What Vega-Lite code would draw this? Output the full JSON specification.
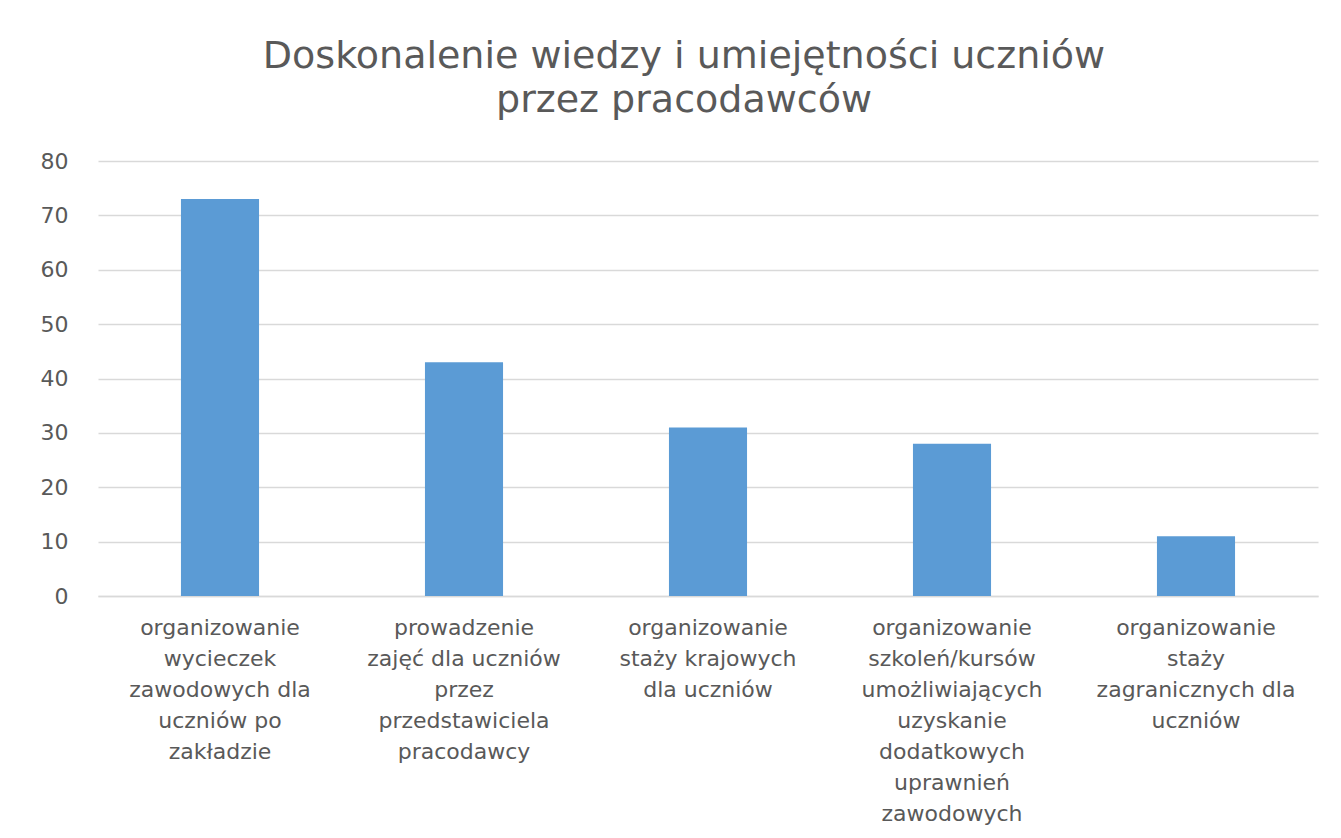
{
  "$schema": "https://vega.github.io/schema/vega-lite/v6.json",
  "autosize": "none",
  "width": 1220,
  "height": 435,
  "padding": {"left": 98, "top": 161, "right": 23, "bottom": 242},
  "background": "white",
  "config": {
    "view": {"stroke": null},
    "font": "DejaVu Sans"
  },
  "title": {
    "text": ["Doskonalenie wiedzy i umiejętności uczniów", "przez pracodawców"],
    "fontSize": 38,
    "font": "DejaVu Sans",
    "fontWeight": "normal",
    "color": "#595959",
    "lineHeight": 44,
    "offset": 30,
    "dx": -24,
    "anchor": "middle"
  },
  "data": {
    "values": [
      {"cat": "organizowanie|wycieczek|zawodowych dla|uczniów po|zakładzie", "order": 1, "value": 73},
      {"cat": "prowadzenie|zajęć dla uczniów|przez|przedstawiciela|pracodawcy", "order": 2, "value": 43},
      {"cat": "organizowanie|staży krajowych|dla uczniów", "order": 3, "value": 31},
      {"cat": "organizowanie|szkoleń/kursów|umożliwiających|uzyskanie|dodatkowych|uprawnień|zawodowych", "order": 4, "value": 28},
      {"cat": "organizowanie|staży|zagranicznych dla|uczniów", "order": 5, "value": 11}
    ]
  },
  "mark": {"type": "bar", "color": "#5b9bd5"},
  "encoding": {
    "x": {
      "field": "cat",
      "type": "nominal",
      "sort": {"field": "order"},
      "scale": {"paddingInner": 0.68, "paddingOuter": 0.34},
      "axis": {
        "title": null,
        "labelAngle": 0,
        "labelExpr": "split(datum.label, '|')",
        "labelFontSize": 22,
        "labelColor": "#595959",
        "labelLineHeight": 31,
        "labelPadding": 21,
        "labelLimit": 400,
        "domain": true,
        "domainColor": "#d9d9d9",
        "domainWidth": 1.5,
        "ticks": false
      }
    },
    "y": {
      "field": "value",
      "type": "quantitative",
      "scale": {"domain": [0, 80]},
      "axis": {
        "title": null,
        "values": [0, 10, 20, 30, 40, 50, 60, 70, 80],
        "labelFontSize": 22,
        "labelColor": "#595959",
        "labelPadding": 30,
        "domain": false,
        "ticks": false,
        "gridColor": "#d9d9d9",
        "gridWidth": 1.5
      }
    }
  }
}
